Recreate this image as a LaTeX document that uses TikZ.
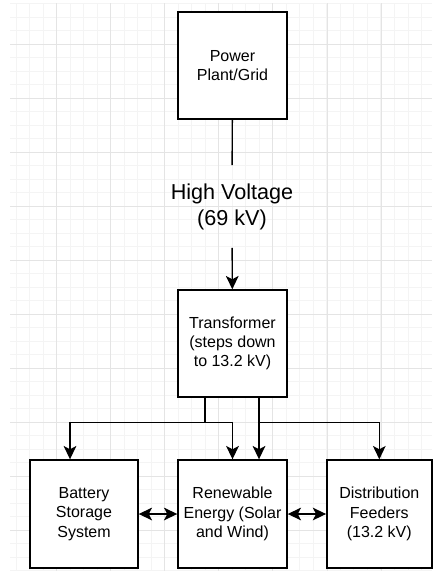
\documentclass[tikz,border=0pt]{standalone}
\usepackage{fontspec}
\setmainfont{Liberation Sans}
\usetikzlibrary{arrows.meta,calc}
\definecolor{minorgrid}{RGB}{244,244,244}
\definecolor{majorgrid}{RGB}{228,228,228}
\tikzset{
  box/.style={draw=black, line width=1.05pt, fill=white, align=center, inner sep=2pt,
    font=\fontsize{12}{14.4}\selectfont, text=black},
  conn/.style={draw=black, line width=1.05pt},
  arr/.style={conn, -{Stealth[length=10pt,width=9.5pt,inset=2.5pt]}},
  biarr/.style={conn, {Stealth[length=10pt,width=9.5pt,inset=2.5pt]}-{Stealth[length=10pt,width=9.5pt,inset=2.5pt]}},
  minorline/.style={draw=minorgrid, line width=0.75pt},
  majorline/.style={draw=majorgrid, line width=0.75pt},
}
\begin{document}
\begin{tikzpicture}[x=0.75pt,y=-0.75pt]
\useasboundingbox (0,0) rectangle (432,571);
\fill[white] (0,0) rectangle (432,571);
% background grid
\begin{scope}
\clip (10,3) rectangle (432,571);
\foreach \i in {0,...,32} {
  \draw[minorline] ({2.7+13.51*\i},0) -- ({2.7+13.51*\i},571);
}
\foreach \i in {0,...,44} {
  \draw[minorline] (0,{-10+13.51*\i}) -- (432,{-10+13.51*\i});
}
\foreach \i in {0,...,8} {
  \draw[majorline] ({2.7+54.05*\i},0) -- ({2.7+54.05*\i},571);
}
\foreach \i in {0,...,11} {
  \draw[majorline] (0,{-10+54.05*\i}) -- (432,{-10+54.05*\i});
}
\end{scope}
% nodes
\node[box, minimum width=109*0.75pt, minimum height=107*0.75pt] (pp) at (232.5,65.5) {Power\\Plant/Grid};
\node[box, minimum width=109*0.75pt, minimum height=107*0.75pt] (tr) at (232.5,343.5) {Transformer\\(steps down\\to 13.2 kV)};
\node[box, minimum width=108*0.75pt, minimum height=108*0.75pt] (bat) at (84,514) {Battery\\Storage\\System};
\node[box, minimum width=109*0.75pt, minimum height=108*0.75pt] (ren) at (232.5,514) {Renewable\\Energy (Solar\\and Wind)};
\node[box, minimum width=105*0.75pt, minimum height=108*0.75pt] (dist) at (379.3,514) {Distribution\\Feeders\\(13.2 kV)};
\node[align=center, inner xsep=2pt, inner ysep=13.5pt, text=black,
  font=\fontsize{16.2}{19.5}\selectfont] (hv) at (232,206.5) {High Voltage\\(69 kV)};
% connectors
\draw[conn] (pp) -- (hv);
\draw[arr] (hv) -- (tr);
\draw[arr] ($(tr.south)+(-27.5,0)$) -- ++(0,25) -| ($(bat.north)+(-14,0)$);
\draw[arr] ($(tr.south)+(-27.5,0)$) -- ++(0,25) -| (ren.north);
\draw[arr] ($(tr.south)+(26.5,0)$) -- ($(ren.north)+(26.5,0)$);
\draw[arr] ($(tr.south)+(26.5,0)$) -- ++(0,25) -| (dist.north);
\draw[biarr] (bat) -- (ren);
\draw[biarr] (ren) -- (dist);
\end{tikzpicture}
\end{document}
